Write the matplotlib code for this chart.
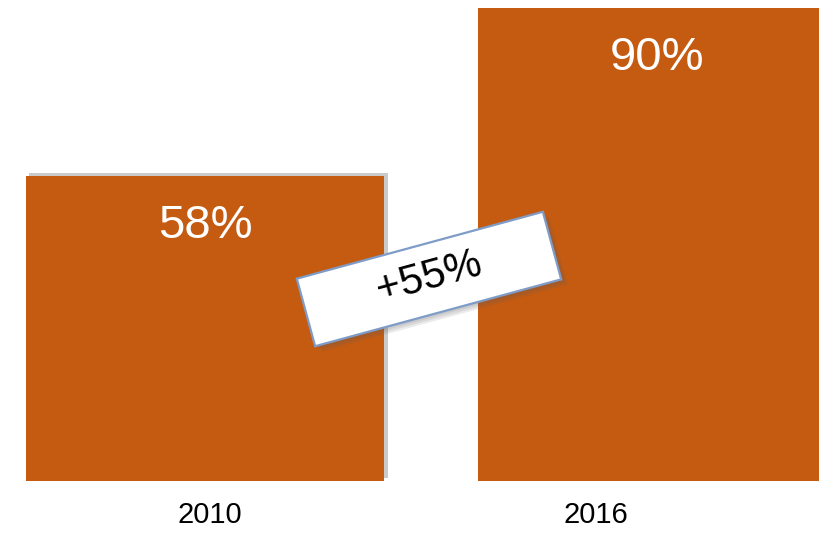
import matplotlib
matplotlib.use("Agg")
import matplotlib.pyplot as plt
import matplotlib.patheffects as pe
from matplotlib.patches import Rectangle
from matplotlib.transforms import Affine2D

# Data
years = ["2010", "2016"]
shares = [58, 90]
change_label = "+55%"

BAR_COLOR = "#C55A11"

fig = plt.figure(figsize=(8.2, 5.33), dpi=100)
ax = fig.add_axes([0, 52 / 533, 1, 481 / 533])

x = [0, 1]
bars = ax.bar(x, shares, width=0.792, color=BAR_COLOR, linewidth=0, zorder=2)

# soft shadow on the first bar
bars[0].set_path_effects([
    pe.SimplePatchShadow(offset=(2.5, 2.5), shadow_rgbFace="#a0a0a0", alpha=0.55),
    pe.Normal(),
])

ax.set_xlim(-0.4535, 1.36)
ax.set_ylim(0, 91.6)

# value labels inside the bars
for xi, v in zip(x, shares):
    ax.annotate(f"{v}%", xy=(xi, v), xytext=(0, -36), textcoords="offset points",
                ha="center", va="center", color="white", fontsize=34,
                family="Liberation Sans", zorder=3)

# category labels under the bars
label_offsets = [0.011, -0.135]
for xi, off, yr in zip(x, label_offsets, years):
    ax.text(xi + off, -0.07, yr, transform=ax.get_xaxis_transform(),
            ha="center", va="center", fontsize=21, family="Liberation Sans",
            color="black")

# tilted change callout between the bars (drawn in pixel space)
cx, cy = 429, 533 - 279
bw, bh = 255, 70
angle = 15.2
rot = Affine2D().rotate_deg_around(cx, cy, angle)
for k, a in enumerate([0.12, 0.12, 0.12]):
    shadow = Rectangle((cx - bw / 2 + 2 + k * 1.5, cy - bh / 2 - 3 - k * 2), bw, bh,
                       transform=rot, facecolor="#606060", alpha=a,
                       linewidth=0, zorder=4)
    fig.add_artist(shadow)
box = Rectangle((cx - bw / 2, cy - bh / 2), bw, bh, transform=rot,
                facecolor="white", edgecolor="#7f9cc8", linewidth=1.6, zorder=5)
fig.add_artist(box)
fig.text(cx / 820, (cy + 2) / 533, change_label, ha="center", va="center",
         rotation=angle, rotation_mode="anchor", fontsize=30,
         family="Liberation Sans", color="black", zorder=6)

for s in ax.spines.values():
    s.set_visible(False)
ax.set_xticks([])
ax.set_yticks([])
ax.patch.set_alpha(0)

fig.savefig("out.png", dpi=100)
